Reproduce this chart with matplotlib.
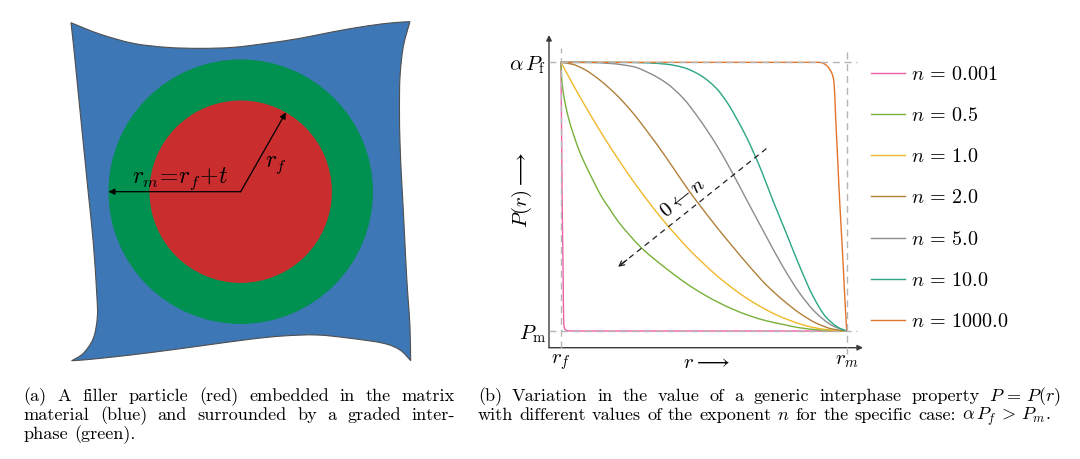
import math
import numpy as np
import matplotlib
matplotlib.use("Agg")
import matplotlib.pyplot as plt
from matplotlib.patches import Circle, FancyArrowPatch, PathPatch
from matplotlib.path import Path
from matplotlib.lines import Line2D

plt.rcParams['font.family'] = ['cmr10', 'DejaVu Serif']
plt.rcParams['mathtext.fontset'] = 'cm'
plt.rcParams['axes.formatter.use_mathtext'] = True

# ------------------------------------------------------------------ data
# panel (b): normalised radius (r_f -> 0, r_m -> 1) and property (P_m -> 0, alpha P_f -> 1)
series_labels = [r'$n\,=\,0.001$', r'$n\,=\,0.5$', r'$n\,=\,1.0$', r'$n\,=\,2.0$',
                 r'$n\,=\,5.0$', r'$n\,=\,10.0$', r'$n\,=\,1000.0$']

r_n0001 = [0, 0.002, 0.004, 0.007, 0.0095, 0.013, 0.025, 0.06, 1.0]
P_n0001 = [1, 0.75, 0.5, 0.25, 0.03, 0.008, 0.001, 0.0, 0.0]

r_n05 = [0, 0.002, 0.005, 0.01, 0.016, 0.03, 0.043, 0.065, 0.09, 0.115, 0.142,
         0.17, 0.2, 0.24, 0.282, 0.33, 0.38, 0.44, 0.503, 0.55, 0.602, 0.66,
         0.719, 0.78, 0.836, 0.9, 0.95, 1.0]
P_n05 = [1, 0.945, 0.912, 0.875, 0.84, 0.778, 0.734, 0.668, 0.609, 0.555, 0.500,
         0.455, 0.408, 0.357, 0.309, 0.265, 0.223, 0.176, 0.134, 0.107, 0.081, 0.057,
         0.038, 0.024, 0.012, 0.0045, 0.0011, 0.0]

r_n1 = [0, 0.05, 0.1, 0.15, 0.2, 0.25, 0.3, 0.35, 0.4, 0.45, 0.5, 0.55, 0.6,
        0.65, 0.7, 0.75, 0.8, 0.85, 0.9, 0.95, 1.0]
P_n1 = [1, 0.902, 0.81, 0.722, 0.64, 0.562, 0.49, 0.422, 0.36, 0.302, 0.25,
        0.202, 0.16, 0.122, 0.09, 0.062, 0.04, 0.022, 0.01, 0.003, 0.0]

r_n2 = [0, 0.04, 0.08, 0.136, 0.195, 0.253, 0.311, 0.37, 0.416, 0.463, 0.486,
        0.544, 0.602, 0.661, 0.719, 0.777, 0.836, 0.894, 0.952, 1.0]
P_n2 = [1, 0.993, 0.975, 0.934, 0.878, 0.81, 0.73, 0.643, 0.571, 0.50, 0.468,
        0.388, 0.313, 0.239, 0.171, 0.115, 0.066, 0.029, 0.007, 0.0]

r_n5 = [0, 0.1, 0.171, 0.253, 0.311, 0.37, 0.428, 0.486, 0.544, 0.591, 0.649,
        0.719, 0.777, 0.836, 0.894, 0.952, 1.0]
P_n5 = [1, 0.9995, 0.996, 0.984, 0.959, 0.922, 0.866, 0.786, 0.693, 0.606, 0.49,
        0.351, 0.239, 0.14, 0.066, 0.019, 0.0]

r_n10 = [0, 0.2, 0.3, 0.37, 0.428, 0.486, 0.544, 0.585, 0.615, 0.65, 0.702,
         0.742, 0.789, 0.836, 0.882, 0.929, 0.976, 1.0]
P_n10 = [1, 1.0, 0.998, 0.993, 0.981, 0.953, 0.903, 0.845, 0.79, 0.72, 0.595,
         0.485, 0.363, 0.239, 0.13, 0.05, 0.01, 0.0]

r_n1000 = [0, 0.9, 0.911, 0.929, 0.946, 0.951, 0.956, 0.961, 0.967, 0.975, 0.985, 0.993, 1.0]
P_n1000 = [1, 1, 0.999, 0.989, 0.964, 0.95, 0.92, 0.80, 0.67, 0.49, 0.30, 0.13, 0.0]

r_ticks = [0, 1]
r_ticklabels = ['$r_f$', '$r_m$']
P_ticks = [0, 1]
P_ticklabels = [r'$P_\mathrm{m}$', r'$\alpha\,P_\mathrm{f}$']

# trend arrow of panel (b): from (r, P) to (r, P)
trend_start = (0.719, 0.679)
trend_end = (0.2, 0.239)
trend_label = r'$0 \leftarrow n$'

# panel (a): schematic in units of r_f, particle centre at (0, 0)
r_f = 1.0
r_m = 1.45
rf_arrow_angle_deg = 60.3
edge_top_u = [-1.861, -1.543, -1.178, -0.811, -0.446, -0.081, 0.285, 0.650, 1.015, 1.382, 1.673, 1.856]
edge_top_v = [1.853, 1.728, 1.627, 1.583, 1.572, 1.583, 1.627, 1.682, 1.754, 1.817, 1.853, 1.864]
edge_right_u = [1.856, 1.783, 1.747, 1.741, 1.747, 1.763, 1.783, 1.801, 1.820, 1.838, 1.856, 1.864]
edge_right_v = [1.864, 1.590, 1.261, 0.896, 0.531, 0.164, -0.201, -0.566, -0.932, -1.206, -1.480, -1.853]
edge_bottom_u = [1.864, 1.747, 1.564, 1.198, 0.833, 0.467, 0.102, -0.446, -0.994, -1.433, -1.726, -1.853]
edge_bottom_v = [-1.853, -1.736, -1.662, -1.607, -1.571, -1.582, -1.618, -1.692, -1.765, -1.816, -1.845, -1.853]
edge_left_u = [-1.853, -1.726, -1.616, -1.572, -1.579, -1.616, -1.671, -1.726, -1.781, -1.828, -1.861]
edge_left_v = [-1.853, -1.772, -1.607, -1.371, -1.114, -0.566, -0.018, 0.531, 1.079, 1.554, 1.853]

caption_a = [["(a)", "A", "filler", "particle", "(red)", "embedded", "in", "the", "matrix"],
             ["material", "(blue)", "and", "surrounded", "by", "a", "graded", "inter-"],
             ["phase", "(green)."]]
caption_b = [["(b)", "Variation", "in", "the", "value", "of", "a", "generic", "interphase",
              "property", r"$P\,=\,P(r)$"],
             ["with", "different", "values", "of", "the", "exponent", "$n$", "for", "the",
              "specific", "case:", r"$\alpha\,P_f\,>\,P_m$."]]


# ------------------------------------------------------------------ helpers
def pchip_path(x, y):
    """Smooth path through the given points (monotone cubic Hermite, as Bezier)."""
    x = np.asarray(x, float)
    y = np.asarray(y, float)
    h = np.diff(x)
    d = np.diff(y) / h
    n = len(x)
    m = np.zeros(n)
    m[0], m[-1] = d[0], d[-1]
    for k in range(1, n - 1):
        if d[k - 1] * d[k] <= 0:
            m[k] = 0.0
        else:
            w1 = 2 * h[k] + h[k - 1]
            w2 = h[k] + 2 * h[k - 1]
            m[k] = (w1 + w2) / (w1 / d[k - 1] + w2 / d[k])
    verts = [(x[0], y[0])]
    codes = [Path.MOVETO]
    for k in range(n - 1):
        verts += [(x[k] + h[k] / 3, y[k] + m[k] * h[k] / 3),
                  (x[k + 1] - h[k] / 3, y[k + 1] - m[k + 1] * h[k] / 3),
                  (x[k + 1], y[k + 1])]
        codes += [Path.CURVE4] * 3
    return verts, codes


def catmull_segments(u, v):
    p = list(zip(u, v))
    n = len(p)
    verts = []
    for i in range(n - 1):
        p0 = p[i - 1] if i > 0 else p[i]
        p1, p2 = p[i], p[i + 1]
        p3 = p[i + 2] if i + 2 < n else p[i + 1]
        c1 = (p1[0] + (p2[0] - p0[0]) / 6, p1[1] + (p2[1] - p0[1]) / 6)
        c2 = (p2[0] - (p3[0] - p1[0]) / 6, p2[1] - (p3[1] - p1[1]) / 6)
        verts += [c1, c2, p2]
    return verts


# ------------------------------------------------------------------ figure
W, H = 1080, 459
fig = plt.figure(figsize=(W / 100, H / 100), dpi=100)

# ---- panel (a)
scale = 91.2           # pixels per unit
cx, cy = 240.7, 191.7  # centre in pixels (from top-left)
ax0 = fig.add_axes([0, 0, 1, 1])
ax0.set_xlim(-cx / scale, (W - cx) / scale)
ax0.set_ylim((cy - H) / scale, cy / scale)
ax0.axis('off')

verts = [(edge_top_u[0], edge_top_v[0])]
codes = [Path.MOVETO]
for eu, ev in [(edge_top_u, edge_top_v), (edge_right_u, edge_right_v),
               (edge_bottom_u, edge_bottom_v), (edge_left_u, edge_left_v)]:
    seg = catmull_segments(eu, ev)
    verts += seg
    codes += [Path.CURVE4] * len(seg)
verts.append(verts[0])
codes.append(Path.CLOSEPOLY)
ax0.add_patch(PathPatch(Path(verts, codes), facecolor='#3e77b5', edgecolor='#505050',
                        lw=0.8, zorder=1))
ax0.add_patch(Circle((0, 0), r_m, facecolor='#00904f', edgecolor='none', zorder=2))
ax0.add_patch(Circle((0, 0), r_f, facecolor='#c92d2e', edgecolor='none', zorder=3))

ang = math.radians(rf_arrow_angle_deg)
for end in [(-r_m, 0.0), (r_f * math.cos(ang), r_f * math.sin(ang))]:
    ax0.add_patch(FancyArrowPatch((0, 0), end, arrowstyle='-|>', mutation_scale=9,
                                  lw=0.9, color='black', shrinkA=0, shrinkB=0, zorder=4))
ax0.text(-0.666, 0.092, r'$r_m\!=\!r_f\!+\!t$', fontsize=17, ha='center', va='baseline', zorder=5)
ax0.text(0.388, 0.274, r'$r_f$', fontsize=17, ha='center', va='baseline', zorder=5)

# ---- panel (b)
L, R, T, B = 549, 863, 35, 347.7
ax = fig.add_axes([L / W, 1 - B / H, (R - L) / W, (B - T) / H])
ax.patch.set_alpha(0)
ax.set_xlim(-0.042, 1.057)
ax.set_ylim(-0.062, 1.1018)
for s in ax.spines.values():
    s.set_visible(False)

colors = ['#ee5fa7', '#78b03a', '#f0b92a', '#b0803a', '#8c8c8c', '#2aa585', '#e2732a']
xs = [r_n0001, r_n05, r_n1, r_n2, r_n5, r_n10, r_n1000]
ys = [P_n0001, P_n05, P_n1, P_n2, P_n5, P_n10, P_n1000]
handles = []
for x, y, c, lab in zip(xs, ys, colors, series_labels):
    v, cds = pchip_path(x, y)
    ax.add_patch(PathPatch(Path(v, cds), facecolor='none', edgecolor=c, lw=1.0,
                           zorder=3, capstyle='round', joinstyle='round'))
    handles.append(Line2D([], [], color=c, lw=1.0, label=lab))

gcol = '#b5b5b5'
gkw = dict(color=gcol, lw=1.0, dashes=(5.0, 3.5), zorder=4, clip_on=False)
ax.plot([-0.042, 1.036], [1, 1], **gkw)
ax.plot([-0.042, 1.036], [0, 0], **gkw)
ax.plot([0, 0], [-0.062, 1.052], **gkw)
ax.plot([1, 1], [-0.085, 1.052], **gkw)

acol = '#3a3a3a'
for tip in [(1, 0), (0, 1)]:
    ax.annotate('', xy=tip, xytext=(0, 0), xycoords='axes fraction', textcoords='axes fraction',
                arrowprops=dict(arrowstyle='-|>', color=acol, lw=1.0, mutation_scale=8,
                                shrinkA=0, shrinkB=0), annotation_clip=False)

ax.set_xticks(r_ticks, r_ticklabels, fontsize=15)
ax.set_yticks(P_ticks, P_ticklabels, fontsize=15)
ax.tick_params(length=0, pad=2)
ax.tick_params(axis='x', pad=3)

ax.set_ylabel(r'$P(r) \longrightarrow$', fontsize=15, va='center', ha='center')
ax.yaxis.set_label_coords(-0.087, 0.504)
ax.set_xlabel(r'$r \longrightarrow$', fontsize=15, va='center', ha='center')
ax.xaxis.set_label_coords(0.5, -0.049)

# trend arrow
ax.plot([trend_start[0], trend_end[0]], [trend_start[1], trend_end[1]], color='#222222',
        lw=0.9, dashes=(4.5, 3.5), zorder=5)
ax.annotate('', xy=trend_end, xytext=(trend_end[0] + 0.03, trend_end[1] + 0.0254),
            arrowprops=dict(arrowstyle='->', color='#222222', lw=0.9, mutation_scale=9,
                            shrinkA=0, shrinkB=0), zorder=5)
dxp = (trend_start[0] - trend_end[0]) * 285.7
dyp = (trend_start[1] - trend_end[1]) * 268.7
rot = math.degrees(math.atan2(dyp, dxp))
ax.text(0.428, 0.493, trend_label, fontsize=15, rotation=rot, rotation_mode='anchor',
        ha='center', va='center', zorder=6)

ax.legend(handles=handles, loc='upper left', bbox_to_anchor=(871 / W, 1 - 65.5 / H),
          bbox_transform=fig.transFigure, frameon=False, fontsize=14.5,
          handlelength=1.7, handletextpad=0.3, labelspacing=1.15,
          borderpad=0, borderaxespad=0)

# ---- captions
fig.canvas.draw()
renderer = fig.canvas.get_renderer()
cap_size = 13.1


def put_line(tokens, x0, x1, y, justify):
    ts = [fig.text(0, 0, t, fontsize=cap_size, ha='left', va='baseline') for t in tokens]
    widths = [t.get_window_extent(renderer).width for t in ts]
    space = 0.333 * cap_size * 100 / 72
    gap = space
    if len(tokens) > 1:
        jgap = (x1 - x0 - sum(widths)) / (len(tokens) - 1)
        if justify or jgap < space:
            gap = jgap
    x = x0
    for t, w in zip(ts, widths):
        t.set_position((x / W, 1 - y / H))
        x += w + gap


base_y = [401.2, 420.3, 438.8]
for i, line in enumerate(caption_a):
    put_line(line, 23.5, 455.0, base_y[i], justify=(i < len(caption_a) - 1))
for i, line in enumerate(caption_b):
    put_line(line, 478.0, 1061.0, base_y[i], justify=(i < len(caption_b) - 1))

fig.savefig('out.png', dpi=100)
